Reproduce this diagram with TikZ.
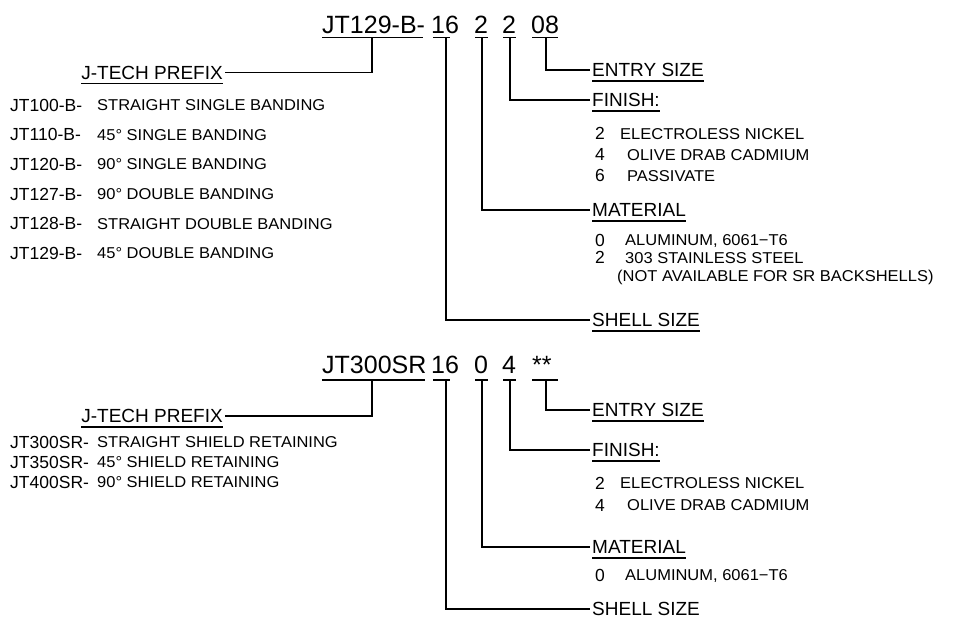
\documentclass[tikz,border=0pt]{standalone}
\usepackage{fontspec}
\setmainfont{Liberation Sans}
\newfontfamily\descfont[FakeStretch=1.05]{Liberation Sans}
\usetikzlibrary{positioning}
\tikzset{
  lead/.style={line width=1.4pt},
  bigtxt/.style={anchor=base west, inner sep=0pt, font=\fontsize{25}{30}\selectfont},
  code/.style={anchor=base west, inner sep=0pt, font=\fontsize{17.5}{21}\selectfont},
  desc/.style={anchor=base west, inner sep=0pt, font=\descfont\fontsize{15.7}{19}\selectfont},
  head/.style={anchor=west, inner xsep=2pt, inner ysep=0pt, text height=13.6pt,
    text depth=0pt, font=\fontsize{19}{23}\selectfont},
}

\begin{document}
\begin{tikzpicture}[x=1pt,y=-1pt]
    \useasboundingbox (0,0) rectangle (968,619);
    % ===== upper part number =====
    \node[bigtxt] (t1pre) at (322,33) {JT129-B-};
    \node[bigtxt] (t1shell) at (431,33) {16};
    \node[bigtxt] (t1mat) at (474,33) {2};
    \node[bigtxt] (t1fin) at (502,33) {2};
    \node[bigtxt] (t1entry) at (531,33) {08};
    \foreach \a/\b in {322/423,433/450,475/488,503/516,532/558}
        \draw[lead] (\a,37.5) -- (\b,37.5);
    \coordinate (k1pre) at (372,37.5);
    \coordinate (k1shell) at (446,37.5);
    \coordinate (k1mat) at (482,37.5);
    \coordinate (k1fin) at (510,37.5);
    \coordinate (k1entry) at (546,37.5);
    % headings
    \node[head, anchor=east] (pre1) at (225,72.5) {J-TECH PREFIX};
    \node[head] (entry1) at (590,70) {ENTRY SIZE};
    \node[head] (fin1) at (590,100) {FINISH:};
    \node[head] (mat1) at (590,210) {MATERIAL};
    \node[head] (shell1) at (590,320) {SHELL SIZE};
    % leaders
    \draw[lead] (k1pre) |- (pre1.east);
    \draw[lead] (k1entry) |- (entry1.west);
    \draw[lead] (k1fin) |- (fin1.west);
    \draw[lead] (k1mat) |- (mat1.west);
    \draw[lead] (k1shell) |- (shell1.west);
    % prefix list
    \foreach \c/\d [count=\i from 0] in {JT100-B-/STRAIGHT SINGLE BANDING,
        JT110-B-/45° SINGLE BANDING, JT120-B-/90° SINGLE BANDING,
        JT127-B-/90° DOUBLE BANDING, JT128-B-/STRAIGHT DOUBLE BANDING,
        JT129-B-/45° DOUBLE BANDING}{
        \node[code] (pa\i) at (10,{111.3+29.6*\i}) {\c};
        \node[desc] (da\i) at (97,{110.6+29.6*\i}) {\d};
    }
    % finish list
    \node[code] (fa2) at (595,139.8) {2};
    \node[desc] (fda2) at (620,139.1) {ELECTROLESS NICKEL};
    \node[code] (fa4) at (595,160.8) {4};
    \node[desc] (fda4) at (627,160.1) {OLIVE DRAB CADMIUM};
    \node[code] (fa6) at (595,181.8) {6};
    \node[desc] (fda6) at (627,181.1) {PASSIVATE};
    % material list
    \node[code] (ma0) at (595,246.3) {0};
    \node[desc] (mda0) at (625,245.6) {ALUMINUM, 6061−T6};
    \node[code] (ma2) at (595,263.8) {2};
    \node[desc] (mda2) at (625,263.1) {303 STAINLESS STEEL};
    \node[desc] (mdb2) at (617,281.1) {(NOT AVAILABLE FOR SR BACKSHELLS)};

    % ===== lower part number =====
    \node[bigtxt] (t2pre) at (322,373) {JT300SR};
    \node[bigtxt] (t2shell) at (431,373) {16};
    \node[bigtxt] (t2mat) at (474,373) {0};
    \node[bigtxt] (t2fin) at (502,373) {4};
    \node[bigtxt] (t2entry) at (532,373) {**};
    \foreach \a/\b in {322/425,433/450,475/488,503/516,532/558}
        \draw[lead] (\a,380) -- (\b,380);
    \coordinate (k2pre) at (372,380);
    \coordinate (k2shell) at (446,380);
    \coordinate (k2mat) at (482,380);
    \coordinate (k2fin) at (510,380);
    \coordinate (k2entry) at (546,380);
    % headings
    \node[head, anchor=east] (pre2) at (225,416) {J-TECH PREFIX};
    \node[head] (entry2) at (590,410) {ENTRY SIZE};
    \node[head] (fin2) at (590,450) {FINISH:};
    \node[head] (mat2) at (590,547) {MATERIAL};
    \node[head] (shell2) at (590,609) {SHELL SIZE};
    % leaders
    \draw[lead] (k2pre) |- (pre2.east);
    \draw[lead] (k2entry) |- (entry2.west);
    \draw[lead] (k2fin) |- (fin2.west);
    \draw[lead] (k2mat) |- (mat2.west);
    \draw[lead] (k2shell) |- (shell2.west);
    % prefix list
    \foreach \c/\d [count=\i from 0] in {JT300SR-/STRAIGHT SHIELD RETAINING,
        JT350SR-/45° SHIELD RETAINING, JT400SR-/90° SHIELD RETAINING}{
        \node[code] (pb\i) at (10,{448.3+20*\i}) {\c};
        \node[desc] (db\i) at (97,{447.6+20*\i}) {\d};
    }
    % finish list
    \node[code] (fb2) at (595,489.3) {2};
    \node[desc] (fdb2) at (620,488.6) {ELECTROLESS NICKEL};
    \node[code] (fb4) at (595,511.3) {4};
    \node[desc] (fdb4) at (627,510.6) {OLIVE DRAB CADMIUM};
    % material list
    \node[code] (mb0) at (595,581.3) {0};
    \node[desc] (mdb0) at (625,580.6) {ALUMINUM, 6061−T6};

    % underlined headings
    \foreach \n in {pre1,entry1,fin1,mat1,shell1,pre2,entry2,fin2,mat2}
        \draw[line width=1.2pt] ([shift={(2pt,-4pt)}]\n.south west) -- ([shift={(-2pt,-4pt)}]\n.south east);
\end{tikzpicture}
\end{document}
